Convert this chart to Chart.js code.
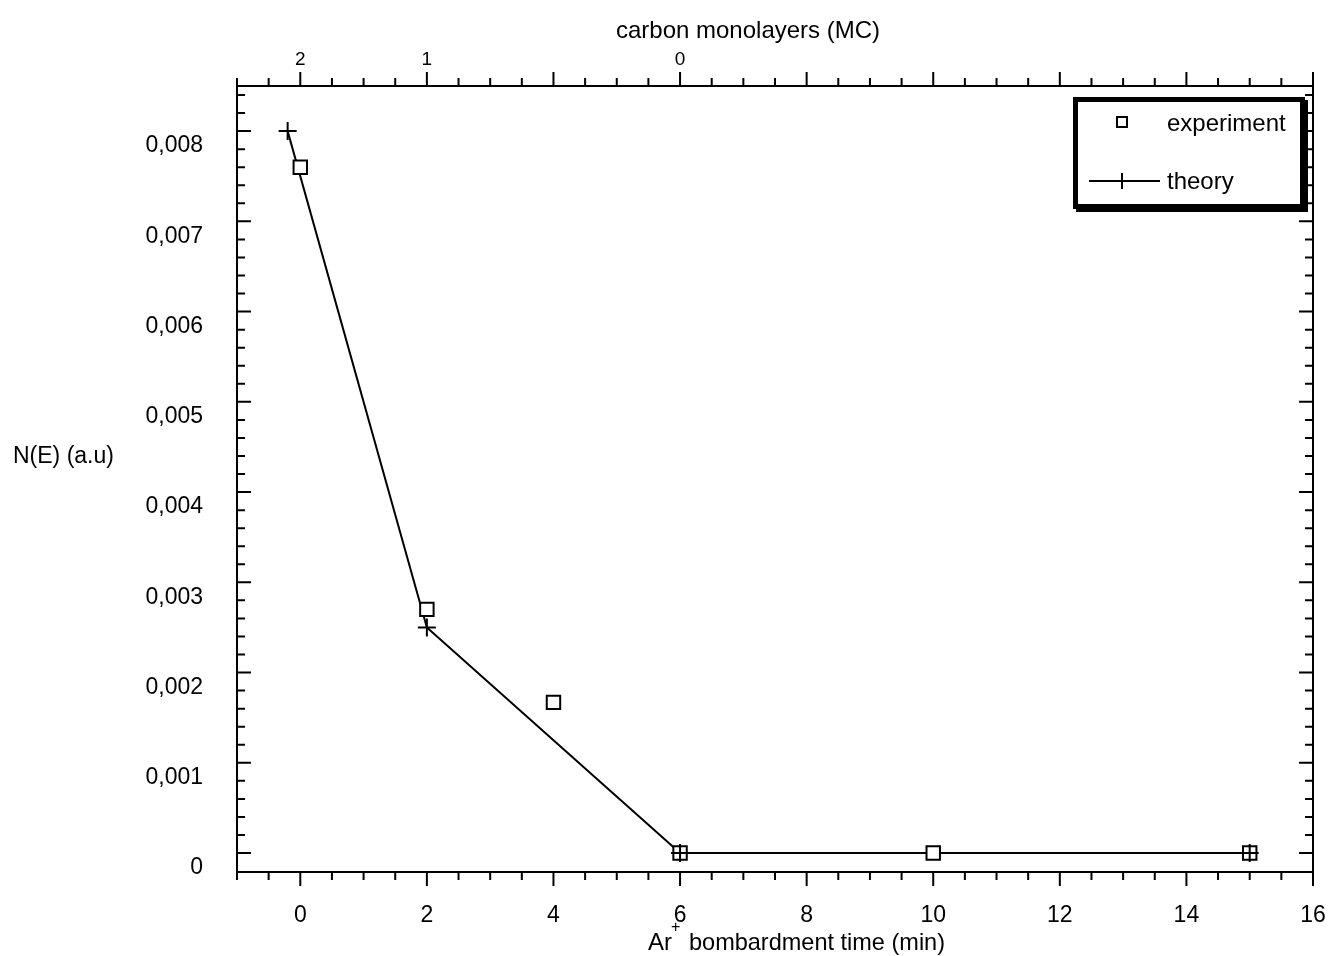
<!DOCTYPE html>
<html>
<head>
<meta charset="utf-8">
<script src="https://cdn.jsdelivr.net/npm/chart.js@4.4.1/dist/chart.umd.min.js"></script>
<style>
  html, body { margin: 0; padding: 0; background: #fff; }
  #chart { display: block; }
</style>
</head>
<body>
<canvas id="chart" width="1334" height="956"></canvas>
<script>
// values
const experimentTime = [0, 2, 4, 6, 10, 15];
const experimentValue = [0.0076, 0.0027, 0.00167, 0, 0, 0];
const theoryTime = [-0.2, 2, 6, 15];
const theoryValue = [0.0080, 0.0025, 0, 0];

// axis ticks
const timeTicks = [0, 2, 4, 6, 8, 10, 12, 14, 16];
const valueTicks = [0, 0.001, 0.002, 0.003, 0.004, 0.005, 0.006, 0.007, 0.008];
const valueTickLabels = ['0', '0,001', '0,002', '0,003', '0,004', '0,005', '0,006', '0,007', '0,008'];
const monolayerTickTimes = [0, 2, 6];
const monolayerTickLabels = ['2', '1', '0'];

const FONT = 'Liberation Sans, Arial, sans-serif';

const toPoints = (xs, ys) => xs.map((v, i) => ({ x: v, y: ys[i] }));

// fixed scale sizes, no label overflow padding
const fixSize = (w, h) => s => {
  if (w !== null) s.width = w;
  if (h !== null) s.height = h;
  s.paddingLeft = s.paddingRight = s.paddingTop = s.paddingBottom = 0;
};

// box, major/minor tick marks on all four sides
const frameTicks = {
  id: 'frameTicks',
  beforeDatasetsDraw(chart) {
    const { ctx, chartArea: a, scales: { x, y } } = chart;
    ctx.save();
    ctx.strokeStyle = '#000';
    ctx.lineWidth = 2;
    ctx.strokeRect(a.left, a.top, a.right - a.left, a.bottom - a.top);
    ctx.beginPath();
    for (let i = -2; i <= 32; i++) {
      const px = x.getPixelForValue(i / 2);
      const len = i % 4 === 0 ? 14 : 8;
      ctx.moveTo(px, a.bottom); ctx.lineTo(px, a.bottom + len);
      ctx.moveTo(px, a.top); ctx.lineTo(px, a.top - len);
    }
    for (let j = 0; j <= 42; j++) {
      const py = y.getPixelForValue(j * 0.0002);
      const len = j % 5 === 0 ? 14 : 8;
      ctx.moveTo(a.left, py); ctx.lineTo(a.left + len, py);
      ctx.moveTo(a.right, py); ctx.lineTo(a.right - len, py);
    }
    ctx.stroke();
    ctx.restore();
  }
};

// axis titles and the boxed legend
const titlesAndLegend = {
  id: 'titlesAndLegend',
  afterDraw(chart) {
    const ctx = chart.ctx;
    ctx.save();
    ctx.fillStyle = '#000';
    ctx.textBaseline = 'alphabetic';

    ctx.font = '24px ' + FONT;
    ctx.textAlign = 'center';
    ctx.fillText('carbon monolayers (MC)', 748, 38);

    ctx.textAlign = 'left';
    ctx.font = '23px ' + FONT;
    ctx.fillText('N(E) (a.u)', 13, 463);

    ctx.font = '24px ' + FONT;
    ctx.fillText('Ar', 648, 950);
    ctx.font = '16px ' + FONT;
    ctx.fillText('+', 671, 932);
    ctx.font = '24px ' + FONT;
    ctx.fillText('bombardment time (min)', 689, 950, 256);

    // legend box with shadow
    ctx.fillRect(1076, 100, 232, 112);
    ctx.fillRect(1073, 97, 232, 112);
    ctx.fillStyle = '#fff';
    ctx.fillRect(1078, 102, 222, 102);

    ctx.strokeStyle = '#000';
    ctx.lineWidth = 2;
    ctx.strokeRect(1117, 117, 10, 10);
    ctx.beginPath();
    ctx.moveTo(1089, 181); ctx.lineTo(1160, 181);
    ctx.moveTo(1122, 173); ctx.lineTo(1122, 189);
    ctx.stroke();

    ctx.fillStyle = '#000';
    ctx.font = '24px ' + FONT;
    ctx.textBaseline = 'middle';
    ctx.fillText('experiment', 1167, 124);
    ctx.fillText('theory', 1167, 182);
    ctx.restore();
  }
};

const tickFont = { family: FONT, size: 23 };

new Chart(document.getElementById('chart'), {
  type: 'scatter',
  data: {
    datasets: [
      {
        label: 'theory',
        data: toPoints(theoryTime, theoryValue),
        showLine: false,
        pointStyle: 'cross',
        pointRadius: 9,
        pointBorderWidth: 2,
        pointBorderColor: '#000',
        clip: false
      },
      {
        label: 'experiment',
        data: toPoints(experimentTime, experimentValue),
        showLine: false,
        pointStyle: 'rect',
        pointRadius: 9.5,
        pointBackgroundColor: '#fff',
        pointBorderColor: '#000',
        pointBorderWidth: 2,
        clip: false
      },
      {
        label: 'theory line',
        data: toPoints(theoryTime, theoryValue),
        showLine: true,
        pointRadius: 0,
        borderColor: '#000',
        borderWidth: 2,
        tension: 0,
        clip: false
      }
    ]
  },
  options: {
    responsive: false,
    devicePixelRatio: 1,
    animation: false,
    layout: { padding: 0 },
    plugins: { legend: { display: false }, tooltip: { enabled: false } },
    scales: {
      x: {
        type: 'linear',
        position: 'bottom',
        min: -1,
        max: 16,
        grid: { display: false, drawTicks: false },
        border: { display: false },
        afterBuildTicks: s => { s.ticks = timeTicks.map(v => ({ value: v })); },
        ticks: { padding: 30, color: '#000', font: tickFont, maxRotation: 0, autoSkip: false,
                 callback: v => String(v) },
        afterFit: fixSize(null, 84)
      },
      xTop: {
        type: 'linear',
        position: 'top',
        min: -1,
        max: 16,
        grid: { display: false, drawTicks: false },
        border: { display: false },
        afterBuildTicks: s => { s.ticks = monolayerTickTimes.map(v => ({ value: v })); },
        ticks: { padding: 15, color: '#000', font: { family: FONT, size: 19 }, maxRotation: 0, autoSkip: false,
                 callback: (v, i) => monolayerTickLabels[i] },
        afterFit: fixSize(null, 86)
      },
      y: {
        type: 'linear',
        position: 'left',
        min: -0.00021,
        max: 0.0085,
        grid: { display: false, drawTicks: false },
        border: { display: false },
        afterBuildTicks: s => { s.ticks = valueTicks.map(v => ({ value: v })); },
        ticks: { padding: 34, labelOffset: 15, color: '#000', font: tickFont, autoSkip: false,
                 callback: (v, i) => valueTickLabels[i] },
        afterFit: fixSize(237, null)
      },
      yRight: {
        type: 'linear',
        position: 'right',
        min: -0.00021,
        max: 0.0085,
        grid: { display: false, drawTicks: false },
        border: { display: false },
        ticks: { display: false },
        afterFit: fixSize(21, null)
      }
    }
  },
  plugins: [frameTicks, titlesAndLegend]
});
</script>
</body>
</html>
